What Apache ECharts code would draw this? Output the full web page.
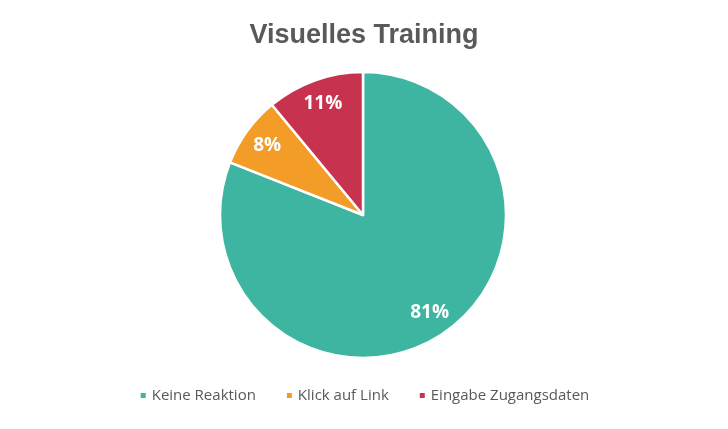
<!DOCTYPE html>
<html>
<head>
    <meta charset="utf-8">
    <title>Visuelles Training</title>
    <script src="https://cdn.jsdelivr.net/npm/echarts@6/dist/echarts.min.js"></script>
    <style>
        html, body { margin: 0; padding: 0; background: #fff; }
    </style>
</head>
<body>
<div id="main" style="width: 728px;height:429px;"></div>
<script type="text/javascript">
    var categories = ['Keine Reaktion', 'Klick auf Link', 'Eingabe Zugangsdaten'];
    var values = [81, 8, 11];
    var colorList = ['#3DB5A0', '#F39C27', '#C7334F'];

    var seriesData = categories.map(function (name, i) {
        return { name: name, value: values[i] };
    });

    var myChart = echarts.init(document.getElementById('main'));

    var option = {
        backgroundColor: '#ffffff',
        color: colorList,
        title: {
            text: 'Visuelles Training',
            left: 'center',
            top: 17,
            textStyle: {
                color: '#595959',
                fontFamily: 'Liberation Sans',
                fontWeight: 'bold',
                fontSize: 27
            }
        },
        legend: {
            bottom: 21,
            left: 'center',
            icon: 'rect',
            itemWidth: 7,
            itemHeight: 7,
            itemGap: 29,
            textStyle: {
                color: '#595959',
                fontFamily: 'Open Sans',
                fontSize: 15
            },
            data: categories
        },
        series: [{
            // eigentlicher Kreis
            type: 'pie',
            center: [363, 215],
            radius: [0, 143],
            startAngle: 90,
            clockwise: true,
            silent: true,
            itemStyle: {
                borderColor: '#ffffff',
                borderWidth: 2.5
            },
            label: { show: false },
            labelLine: { show: false },
            data: seriesData
        }, {
            // nur fuer die Beschriftung weiter aussen
            type: 'pie',
            center: [363, 215],
            radius: [88, 143],
            startAngle: 90,
            clockwise: true,
            silent: true,
            legendHoverLink: false,
            itemStyle: { color: 'transparent' },
            label: {
                show: true,
                position: 'inside',
                formatter: '{d}%',
                color: '#ffffff',
                fontFamily: 'Open Sans',
                fontWeight: 'bold',
                fontSize: 19
            },
            labelLine: { show: false },
            data: seriesData
        }]
    };

    myChart.setOption(option);
</script>
</body>
</html>
